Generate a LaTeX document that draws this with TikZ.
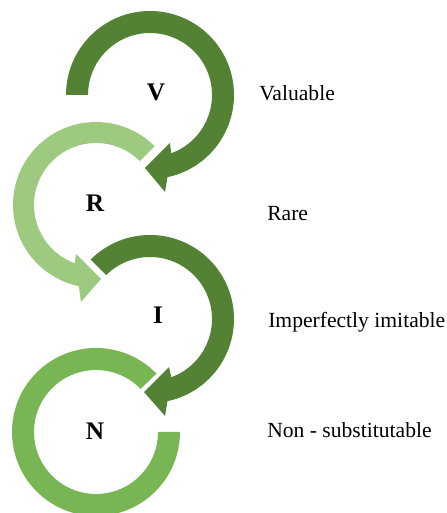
\documentclass[tikz,border=0pt]{standalone}
\usepackage{fontspec}
\setmainfont{Liberation Serif}
\definecolor{darkgreen}{HTML}{548235}
\definecolor{palegreen}{HTML}{9DCA7E}
\definecolor{midgreen}{HTML}{77B653}

\begin{document}
\begin{tikzpicture}[x=0.75pt,y=0.75pt,
  letter/.style={font=\fontsize{19}{19}\selectfont\bfseries},
  caption/.style={anchor=base west,inner sep=0pt,font=\fontsize{16.2}{17}\selectfont},
  dark arrow/.style={fill=darkgreen},
  pale arrow/.style={fill=palegreen},
  ring/.style={fill=midgreen}]

  \useasboundingbox (0,0) rectangle (446,513);

  % V: clockwise, arrow head at the bottom
  \begin{scope}[shift={(150,418)}]
    \path[dark arrow] (180:84) arc[start angle=180,end angle=-78,radius=84]
      -- (15,-97) -- (-5,-73) -- (20,-48)
      -- (-70:62) arc[start angle=-70,end angle=180,radius=62] -- cycle;
  \end{scope}

  % R: counter clockwise
  \begin{scope}[shift={(96,308)}]
    \path[pale arrow] (45:83) arc[start angle=45,end angle=258,radius=83]
      -- (-15,-97) -- (5,-74) -- (-20,-49)
      -- (250:62) arc[start angle=250,end angle=45,radius=62] -- cycle;
  \end{scope}

  % I: clockwise again
  \begin{scope}[shift={(150,194)}]
    \path[dark arrow] (135:84) arc[start angle=135,end angle=-78,radius=84]
      -- (15,-97) -- (-6,-73) -- (19,-48)
      -- (-70:62) arc[start angle=-70,end angle=135,radius=62] -- cycle;
  \end{scope}

  % N: open ring, no head
  \begin{scope}[shift={(96,81)}]
    \path[ring] (44:84) arc[start angle=44,end angle=360,radius=84]
      -- (0:62) arc[start angle=360,end angle=44,radius=62] -- cycle;
  \end{scope}

  \node[letter] (v) at (156,421) {V};
  \node[letter] (r) at (95,310) {R};
  \node[letter] (i) at (158,198) {I};
  \node[letter] (n) at (95,82) {N};

  \node[caption] (valuable) at (259,412) {Valuable};
  \node[caption] (rare) at (267,292) {Rare};
  \node[caption] (imitable) at (268,185) {Imperfectly imitable};
  \node[caption] (nonsub) at (267,75) {Non - substitutable};

\end{tikzpicture}
\end{document}
